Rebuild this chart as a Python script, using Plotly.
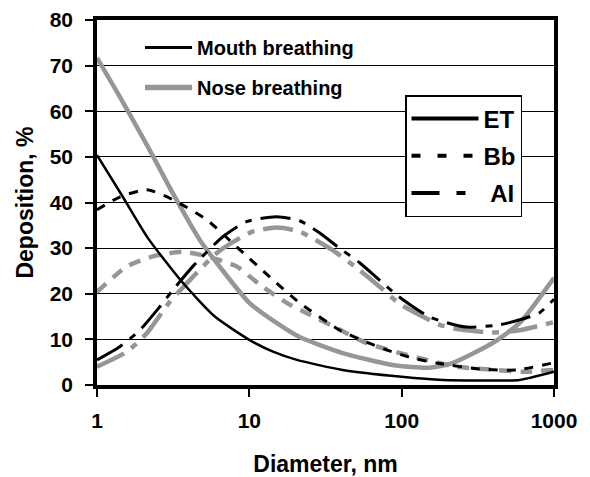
import plotly.graph_objects as go

# ---- data ----
mouth_et_x = [1, 1.48, 2.16, 3.66, 5.94, 10, 14.3, 20.5, 41, 100, 186, 400, 595, 1000]
mouth_et_y = [50.4, 41.2, 32.2, 22.4, 15, 9.9, 7.3, 5.5, 3.3, 1.8, 1.1, 1.0, 1.1, 2.9]

nose_et_x = [1, 1.41, 2.16, 3.15, 4.73, 6.4, 10, 15.1, 21.4, 41, 87, 150, 215, 395, 595, 1000]
nose_et_y = [71.7, 63.2, 52.2, 42, 31.8, 25.9, 18, 13.6, 10.5, 7, 4.4, 3.8, 4.8, 9.2, 13.6, 23.5]

mouth_bb_x = [1, 1.41, 2.13, 3.15, 5.26, 8.25, 13.6, 21.4, 39.3, 58.9, 79.7, 118, 170, 325, 570, 1000]
mouth_bb_y = [38.4, 41.2, 42.8, 40.6, 36.2, 30.3, 23.7, 18, 12, 9.4, 7.7, 5.9, 4.8, 3.5, 3.3, 4.9]

nose_bb_x = [1, 1.57, 2.33, 3.66, 5.26, 8.25, 11.7, 17.6, 25, 37.4, 58.9, 108, 230, 420, 620, 1000]
nose_bb_y = [20.4, 26, 28.2, 29.2, 28.2, 26, 22, 18, 15.4, 12.5, 9.2, 6.6, 4, 3.3, 2.9, 3.3]

mouth_ai_x = [1, 1.41, 1.91, 2.59, 3.15, 4.26, 6.7, 9.6, 15.1, 21.4, 29, 39, 53, 93, 153, 265, 440, 595, 800, 1000]
mouth_ai_y = [5.5, 8.4, 12, 17.2, 20.8, 26, 32.5, 35.8, 36.9, 36, 33.3, 30, 26.8, 19.7, 14.9, 12.7, 13.2, 14.3, 15.8, 18.8]

nose_ai_x = [1, 1.57, 2.13, 3.0, 4.26, 6.1, 8.25, 10.5, 15.1, 21.4, 35, 52.8, 75, 97, 178, 240, 395, 595, 1000]
nose_ai_y = [4, 7.3, 11.4, 18.2, 23.7, 28.9, 31.8, 33.6, 34.5, 33.6, 29.6, 25.2, 21, 17.8, 13.2, 12.2, 11.5, 12, 13.8]

x_ticks = [1, 10, 100, 1000]
x_tick_labels = ["1", "10", "100", "1000"]
y_ticks = [0, 10, 20, 30, 40, 50, 60, 70, 80]

BLACK = "#000000"
GRAY = "#969696"
FONT = "Liberation Sans, Arial, sans-serif"

DASH_BB_M = "9px,9px"
DASH_BB_N = "12px,9px"
DASH_AI = "30px,9px,7px,9px"

fig = go.Figure()

def add(x, y, color, width, dash):
    fig.add_trace(go.Scatter(
        x=x, y=y, mode="lines", showlegend=False, hoverinfo="skip",
        line=dict(color=color, width=width, dash=dash, shape="spline", smoothing=0.6),
    ))

# nose (gray) first, mouth (black) on top
add(nose_et_x, nose_et_y, GRAY, 4.5, "solid")
add(nose_bb_x, nose_bb_y, GRAY, 4.5, DASH_BB_N)
add(nose_ai_x, nose_ai_y, GRAY, 4.5, DASH_AI)
add(mouth_et_x, mouth_et_y, BLACK, 2.5, "solid")
add(mouth_bb_x, mouth_bb_y, BLACK, 3, DASH_BB_M)
add(mouth_ai_x, mouth_ai_y, BLACK, 3, DASH_AI)

# legend 1: breathing mode
for name, color, width, grp in [("Mouth breathing", BLACK, 3, "m"), ("Nose breathing", GRAY, 5.5, "n")]:
    fig.add_trace(go.Scatter(
        x=[None], y=[None], mode="lines", name=name, legend="legend", legendgroup=grp,
        line=dict(color=color, width=width),
    ))

# legend 2: region
for name, dash, grp in [("ET", "solid", "et"), ("Bb", "9px,17px", "bb"), ("\u00a0AI", "28px,17px,9px,17px", "ai")]:
    fig.add_trace(go.Scatter(
        x=[None], y=[None], mode="lines", name=name, legend="legend2", legendgroup=grp,
        line=dict(color=BLACK, width=4, dash=dash),
    ))

axis_font = dict(family=FONT, size=21, color=BLACK, weight="bold")
title_font = dict(family=FONT, size=23, color=BLACK, weight="bold")

fig.update_layout(
    width=590, height=477,
    margin=dict(l=97, r=36, t=20, b=92),
    paper_bgcolor="white", plot_bgcolor="white",
    xaxis=dict(
        type="log", range=[0, 3], automargin=False,
        tickvals=x_ticks, ticktext=x_tick_labels,
        showgrid=False, zeroline=False,
        showline=True, mirror=True, linecolor=BLACK, linewidth=3.5,
        ticks="outside", ticklen=8, tickwidth=1.5, tickcolor=BLACK,
        tickfont=axis_font, ticklabelstandoff=6,
        title=dict(text="Diameter, nm", font=title_font, standoff=26),
    ),
    yaxis=dict(
        range=[0, 80], tickvals=y_ticks, automargin=False,
        showgrid=True, gridcolor=BLACK, gridwidth=1, zeroline=False,
        showline=True, mirror=True, linecolor=BLACK, linewidth=3.5,
        ticks="outside", ticklen=8, tickwidth=1.5, tickcolor=BLACK,
        tickfont=axis_font, ticklabelstandoff=8,
        title=dict(text="Deposition, %", font=title_font, standoff=11),
    ),
    legend=dict(
        x=(140 - 97) / 457, y=(385 - 28) / 365, xanchor="left", yanchor="top",
        bgcolor="rgba(0,0,0,0)", borderwidth=0,
        font=dict(family=FONT, size=20, color=BLACK, weight="bold"),
        itemwidth=47, tracegroupgap=11, traceorder="grouped",
    ),
    legend2=dict(
        x=(405 - 97) / 457, y=(385 - 95) / 365, xanchor="left", yanchor="top",
        bgcolor="white", bordercolor=BLACK, borderwidth=1.5,
        font=dict(family=FONT, size=24, color=BLACK, weight="bold"),
        itemwidth=67, tracegroupgap=3, traceorder="grouped",
    ),
)

fig.write_html(
    "out.html",
    config={"displayModeBar": False},
    post_script="document.body.style.margin='0px';document.body.style.overflow='hidden';",
)
